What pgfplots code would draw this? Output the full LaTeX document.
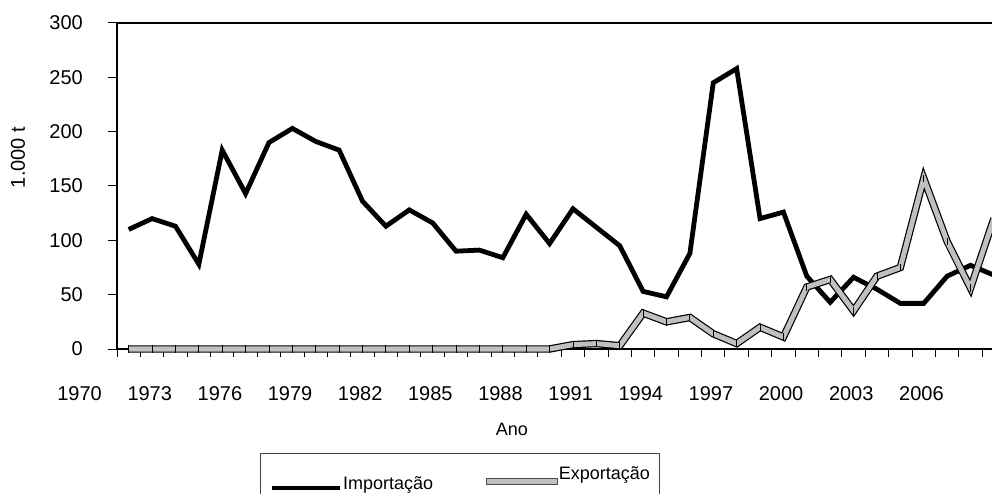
\documentclass[border=0pt]{standalone}
\usepackage{fontspec}
\setmainfont{Liberation Sans}
\usepackage{pgfplots}
\usepackage{pgfplotstable}
\pgfplotsset{compat=1.18}
\definecolor{silver}{HTML}{C0C0C0}
\pgfplotstableread{
i imp exp
0 110 0
1 120 0
2 113 0
3 78 0
4 183 0
5 143 0
6 190 0
7 203 0
8 191 0
9 183 0
10 136 0
11 113 0
12 128 0
13 116 0
14 90 0
15 91 0
16 84 0
17 124 0
18 97 0
19 129 4
20 112 5
21 95 3
22 53 33
23 48 25
24 88 29
25 245 14
26 258 5
27 120 20
28 126 11
29 67 57
30 43 64
31 66 35
32 55 67
33 42 75
34 42 157
35 67 99
36 77 56
37 68 120
}\data
\begin{document}
\begin{tikzpicture}[font=\fontsize{18bp}{21bp}\selectfont]
\path[use as bounding box] (0,0) rectangle (992bp,494bp);
\begin{axis}[
  at={(117bp,145bp)}, anchor=south west,
  scale only axis, width=875bp, height=326bp,
  xmin=-0.5, xmax=36.92, ymin=0, ymax=300,
  axis lines=left,
  axis line style={-, line width=1.3bp, black},
  clip=false,
  /pgf/number format/assume math mode=true,
  ytick={0,50,...,300},
  xtick={0.9,3.9,6.9,9.9,12.9,15.9,18.9,21.9,24.9,27.9,30.9,33.9,36.9},
  xticklabels={1970,1973,1976,1979,1982,1985,1988,1991,1994,1997,2000,2003,2006},
  xticklabel style={inner sep=0pt, anchor=north, xshift=-70.14bp, yshift=-28bp, font=\fontsize{20bp}{23bp}\selectfont},
  yticklabel style={inner sep=0pt, anchor=east, xshift=-25bp, font=\fontsize{20bp}{23bp}\selectfont},
  minor xtick={-0.5,0.5,...,36.5},
  tick align=outside,
  major tick length=9bp, minor tick length=8bp,
  major x tick style={draw=none},
  tick style={black, line width=1bp},
  xlabel={Ano},
  xlabel style={at={(axis description cs:0.4514,-0.2454)}, anchor=center, inner sep=0pt},
  ylabel={1.000 t},
  ylabel style={at={(axis description cs:-0.1131,0.5874)}, anchor=center, inner sep=0pt, font=\fontsize{20bp}{23bp}\selectfont},
  extra description/.code={\draw[line width=1.5bp, black] (rel axis cs:0,1) -- (rel axis cs:1,1);},
  legend columns=2,
  legend style={at={(axis description cs:0.16343,-0.31902)}, anchor=north west,
    draw=black!75, line width=0.8bp, inner xsep=9bp, inner ysep=23bp,
    nodes={inner sep=0pt},
    cells={anchor=base west},
    /tikz/every odd column/.style={column sep=1bp},
    /tikz/every even column/.style={column sep=53bp}},
]
\addplot[black, line width=4.8bp, legend image code/.code={\draw[black, line width=4.7bp] (0bp,1.4bp) -- (68bp,1.4bp);}] table[x=i, y=imp] {\data};
\addlegendentry{Importação}
\addplot[black, line width=7.4bp, forget plot] table[x=i, y=exp] {\data};
\addplot[silver, line width=5bp, legend image code/.code={\draw[fill=silver, draw=black!70, line width=0.8bp] (0bp,4.7bp) rectangle (71bp,10.7bp);}] table[x=i, y=exp] {\data};
\addlegendentry{\raisebox{10bp}[0pt][0pt]{Exportação}}
\addplot[only marks, mark=|, mark size=3.7bp, mark options={black, line width=0.9bp}, forget plot] table[x=i, y=exp] {\data};
\end{axis}
\end{tikzpicture}
\end{document}
